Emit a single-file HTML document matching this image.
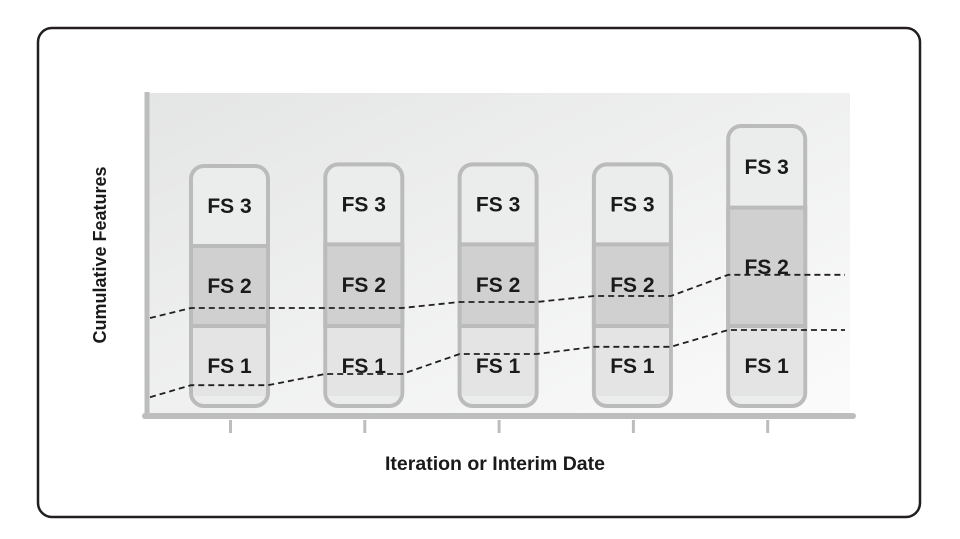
<!DOCTYPE html>
<html><head><meta charset="utf-8"><style>
html,body{margin:0;padding:0;background:#fff;width:960px;height:539px;overflow:hidden}
svg{display:block}
text{font-family:"Liberation Sans Narrow","Liberation Sans",sans-serif;font-weight:bold;fill:#1a1a1a}
</style></head><body>
<svg id="chart" width="960" height="539" viewBox="0 0 960 539">
<defs><linearGradient id="bg" x1="0" y1="0" x2="1" y2="1"><stop offset="0" stop-color="#e4e5e5"/><stop offset="1" stop-color="#fbfbfb"/></linearGradient></defs>
<rect x="38" y="28" width="882" height="489" rx="14" fill="#fff" stroke="#231f20" stroke-width="2.5"/>
<rect x="148" y="93" width="702" height="322" fill="url(#bg)"/>
<g id="bars"></g>
<g id="lines"></g>
<line x1="147" y1="92" x2="147" y2="419" stroke="#bdbdbd" stroke-width="5"/>
<line x1="145" y1="416" x2="853" y2="416" stroke="#bdbdbd" stroke-width="6" stroke-linecap="round"/>
<g id="ticks"></g>
<text transform="translate(106,255) rotate(-90)" text-anchor="middle" font-size="18">Cumulative Features</text>
<text transform="translate(495,470)" text-anchor="middle" font-size="19.5">Iteration or Interim Date</text>
</svg>
<script>
const categories=["Iteration 1","Iteration 2","Iteration 3","Iteration 4","Iteration 5"];
const fs1=[10,10,10,10,10];
const fs2=[10,10.2,10.2,10.2,14.8];
const fs3=[10,10,10,10,10.2];
const upperLine=[12.25,12.25,13,13.75,16.4];
const lowerLine=[2.6,4,6.5,7.4,9.5];
const upperStart=11, lowerStart=1.1;

const NS="http://www.w3.org/2000/svg";
const x0=191, step=134.3, bw=77;
function xLeft(i){return x0+i*step;}
function y(v){return 406-v*8;}
function mk(tag,attrs,parent){const e=document.createElementNS(NS,tag);for(const k in attrs)e.setAttribute(k,attrs[k]);parent.appendChild(e);return e;}
const bars=document.getElementById('bars'),lines=document.getElementById('lines'),ticks=document.getElementById('ticks');
categories.forEach((c,i)=>{
  const xl=xLeft(i), cx=xl+bw/2;
  const b1=y(fs1[i]), b2=y(fs1[i]+fs2[i]), top=y(fs1[i]+fs2[i]+fs3[i]), bot=y(0);
  const g=mk('g',{},bars);
  
  
  const o=mk('rect',{x:xl,y:top,width:bw,height:bot-top,rx:13,fill:'#ebecec',stroke:'#bbbbbb','stroke-width':4},g);
  
  
  const s1=mk('rect',{x:xl+2,y:b1,width:bw-4,height:bot-b1-10,fill:'#e4e4e4'},g);
  
  
  const s2=mk('rect',{x:xl,y:b2,width:bw,height:b1-b2,fill:'#d0d0d0',stroke:'#bbbbbb','stroke-width':4},g);
  
  
  [['FS 1',(b1+bot)/2],['FS 2',(b2+b1)/2],['FS 3',(top+b2)/2]].forEach(([t,yy])=>{
    const tx=mk('text',{x:cx,y:yy+7,'text-anchor':'middle','font-size':21},g);
    tx.textContent=t;
    
    
  });
  const tk=mk('line',{x1:cx+1,y1:420,x2:cx+1,y2:433,stroke:'#bdbdbd','stroke-width':3},ticks);
  
  
});
function drawLine(start,vals,name){
  let pts=[[150,y(start)]];
  vals.forEach((v,i)=>{pts.push([xLeft(i),y(v)]);pts.push([i===vals.length-1?845:xLeft(i)+bw,y(v)]);});
  const p=mk('polyline',{points:pts.map(p=>p.join(',')).join(' '),fill:'none',stroke:'#231f20','stroke-width':1.8,'stroke-dasharray':'6,4'},lines);
  
  
}
drawLine(upperStart,upperLine,'upper-dashed-line');
drawLine(lowerStart,lowerLine,'lower-dashed-line');
</script>
</body></html>
